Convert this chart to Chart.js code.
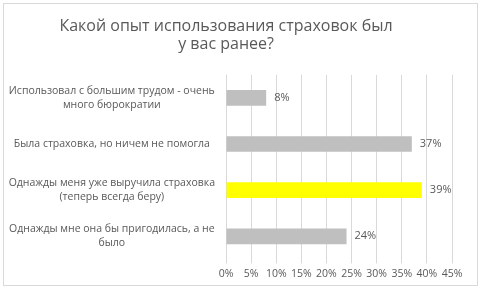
<!DOCTYPE html>
<html>
<head>
<meta charset="utf-8">
<script src="https://cdn.jsdelivr.net/npm/chart.js@4"></script>
<style>
  body { margin: 0; background: #fff; }
  #wrap { position: relative; width: 480px; height: 291px; }
  #frame { position: absolute; left: 3px; top: 3px; width: 473px; height: 281px; border: 1px solid #d9d9d9; }
  canvas { position: absolute; left: 0; top: 0; }
</style>
</head>
<body>
<div id="wrap">
  <div id="frame"></div>
  <canvas id="chart" width="480" height="291"></canvas>
</div>
<script>
const titleLines = ['Какой опыт использования страховок был', 'у вас ранее?'];
const categories = [
  ['Использовал с большим трудом - очень', 'много бюрократии'],
  ['Была страховка, но ничем не помогла'],
  ['Однажды меня уже выручила страховка', '(теперь всегда беру)'],
  ['Однажды мне она бы пригодилась, а не', 'было']
];
const values = [8, 37, 39, 24];
const barColors = ['#bfbfbf', '#bfbfbf', '#ffff00', '#bfbfbf'];

const textColor = '#595959';
const gridColor = '#d9d9d9';
const fontFamily = '"Open Sans", sans-serif';

// simple value labels to the right of each bar
const valueLabels = {
  id: 'valueLabels',
  afterDatasetsDraw(chart) {
    const ctx = chart.ctx;
    const meta = chart.getDatasetMeta(0);
    ctx.save();
    ctx.font = '11px ' + fontFamily;
    ctx.fillStyle = textColor;
    ctx.textAlign = 'left';
    ctx.textBaseline = 'middle';
    meta.data.forEach((bar, i) => {
      ctx.fillText(values[i] + '%', bar.x + 8, bar.y);
    });
    ctx.restore();
  }
};

new Chart(document.getElementById('chart'), {
  type: 'bar',
  data: {
    labels: categories,
    datasets: [{
      data: values,
      backgroundColor: barColors,
      borderWidth: 0,
      barPercentage: 0.34,
      categoryPercentage: 1
    }]
  },
  options: {
    indexAxis: 'y',
    responsive: false,
    animation: false,
    layout: { padding: { left: 0, right: 28, top: 0, bottom: 7 } },
    plugins: {
      legend: { display: false },
      tooltip: { enabled: false },
      title: {
        display: true,
        text: titleLines,
        color: textColor,
        font: { family: fontFamily, size: 16, weight: 'normal', lineHeight: 1.15 },
        padding: { top: 17, bottom: 21 }
      }
    },
    scales: {
      x: {
        min: 0,
        max: 45,
        ticks: {
          stepSize: 5,
          color: textColor,
          font: { family: fontFamily, size: 10.5 },
          callback: v => v + '%',
          maxRotation: 0,
          autoSkip: false,
          padding: 4
        },
        grid: { color: gridColor, drawTicks: true, tickLength: 4 },
        border: { display: false }
      },
      y: {
        afterFit(scale) { scale.width = 226; },
        ticks: {
          color: textColor,
          font: { family: fontFamily, size: 10.5, lineHeight: 1.35 },
          crossAlign: 'center',
          padding: 3
        },
        grid: { display: false },
        border: { display: false }
      }
    }
  },
  plugins: [valueLabels]
});
</script>
</body>
</html>
